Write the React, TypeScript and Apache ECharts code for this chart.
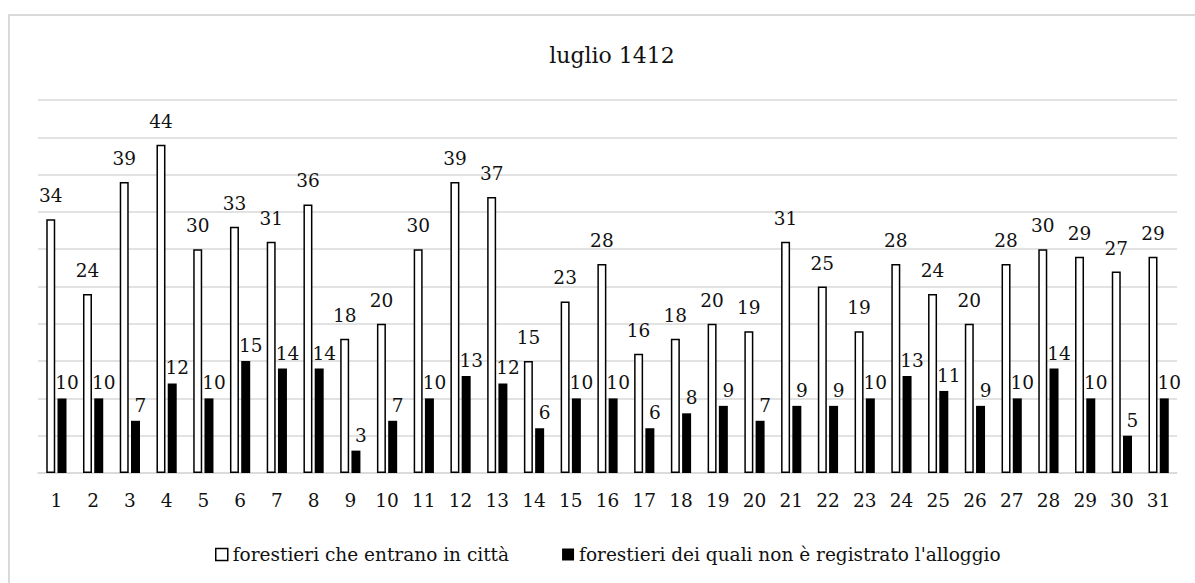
import React, { useEffect, useRef } from "react";
import * as echarts from "echarts";

const days = Array.from({ length: 31 }, (_, i) => String(i + 1));
const entering = [34, 24, 39, 44, 30, 33, 31, 36, 18, 20, 30, 39, 37, 15, 23, 28, 16, 18, 20, 19, 31, 25, 19, 28, 24, 20, 28, 30, 29, 27, 29];
const unregistered = [10, 10, 7, 12, 10, 15, 14, 14, 3, 7, 10, 13, 12, 6, 10, 10, 6, 8, 9, 7, 9, 9, 10, 13, 11, 9, 10, 14, 10, 5, 10];
const seriesNames = ["forestieri che entrano in città", "forestieri dei quali non è registrato l'alloggio"];
const titleText = "luglio 1412";

const FONT = "DejaVu Serif";
const TXT = "#111111";
const FS = 18.5;

export default function App() {
  const ref = useRef<HTMLDivElement>(null);
  useEffect(() => {
    if (!ref.current) return;
    const chart = echarts.init(ref.current, undefined, { renderer: "svg" });
    chart.setOption({
      animation: false,
      backgroundColor: "#ffffff",
      textStyle: { fontFamily: FONT, color: TXT },
      title: {
        text: titleText,
        left: 607,
        textAlign: "center",
        top: 39,
        textStyle: { fontFamily: FONT, fontSize: 22, fontWeight: "normal", color: TXT },
      },
      graphic: [
        {
          type: "rect",
          shape: { x: 9, y: 15, width: 1300, height: 700 },
          style: { fill: "none", stroke: "#d9d9d9", lineWidth: 2 },
          silent: true,
        },
      ],
      legend: {
        left: 210,
        top: 540,
        itemWidth: 12,
        itemHeight: 12,
        itemGap: 53,
        icon: "rect",
        textStyle: { fontFamily: FONT, fontSize: FS, color: TXT },
        data: [
          { name: seriesNames[0], itemStyle: { color: "#ffffff", borderColor: "#000000", borderWidth: 1.5 } },
          { name: seriesNames[1], itemStyle: { color: "#000000" } },
        ],
      },
      grid: { left: 38, right: 18, top: 100, bottom: 110 },
      xAxis: {
        type: "category",
        data: days,
        axisLine: { show: true, lineStyle: { color: "#d9d9d9", width: 1.5 } },
        axisTick: { show: false },
        axisLabel: { fontFamily: FONT, fontSize: FS, color: TXT, margin: 18, interval: 0 },
      },
      yAxis: {
        type: "value",
        min: 0,
        max: 50,
        interval: 5,
        axisLine: { show: false },
        axisTick: { show: false },
        axisLabel: { show: false },
        splitLine: { show: true, lineStyle: { color: "#d9d9d9", width: 1.5 } },
      },
      series: [
        {
          name: seriesNames[0],
          type: "bar",
          data: entering,
          barWidth: 9,
          barGap: "25%",
          itemStyle: { color: "#ffffff", borderColor: "#000000", borderWidth: 1.5 },
          label: {
            show: true,
            position: "top",
            distance: 14,
            fontFamily: FONT,
            fontSize: FS,
            color: TXT,
          },
        },
        {
          name: seriesNames[1],
          type: "bar",
          data: unregistered,
          barWidth: 9,
          itemStyle: { color: "#000000" },
          label: {
            show: true,
            position: "top",
            distance: 6,
            offset: [5, 0],
            fontFamily: FONT,
            fontSize: FS,
            color: TXT,
          },
        },
      ],
    });
    return () => chart.dispose();
  }, []);
  return (
    <div
      ref={ref}
      style={{ position: "absolute", left: 0, top: 0, width: 1195, height: 583 }}
    />
  );
}
